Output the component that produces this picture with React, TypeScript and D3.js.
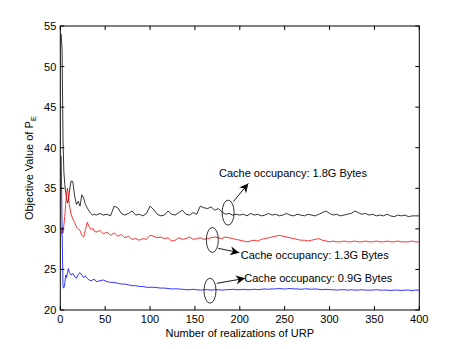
import * as d3 from 'd3';

// x positions of the samples (realizations of URP)
const xs = [
  1, 2, 3, 4, 5, 6, 7, 8, 9, 10,
  12, 14, 16, 18, 20, 22, 24, 26, 28, 30, 32, 34, 36, 38, 40,
  44, 48, 52, 56, 60, 64, 68, 72, 76, 80, 84, 88, 92, 96, 100,
  104, 108, 112, 116, 120, 124, 128, 132, 136, 140, 144, 148, 152, 156, 160,
  164, 168, 172, 176, 180, 184, 188, 192, 196, 200, 204, 208, 212, 216, 220,
  224, 228, 232, 236, 240, 244, 248, 252, 256, 260, 264, 268, 272, 276, 280,
  284, 288, 292, 296, 300, 304, 308, 312, 316, 320, 324, 328, 332, 336, 340,
  344, 348, 352, 356, 360, 364, 368, 372, 376, 380, 384, 388, 392, 396, 400,
];

// 1.8G Bytes
const black = [
  54, 52, 41, 37, 35.5, 34.5, 33.8, 33.2, 33.5, 34.5,
  35.9, 35.8, 34, 33, 33.4, 32.8, 34.2, 33.8, 33, 32.6, 32.2, 31.9, 31.7, 31.8, 31.7,
  31.9, 31.7, 31.8, 31.6, 32.8, 32.6, 31.9, 31.7, 31.9, 32.2, 31.7, 31.8, 31.6, 31.9, 32.8,
  32.4, 31.8, 31.6, 31.7, 32.2, 31.8, 31.7, 32.0, 32.3, 31.8, 31.7, 32.0, 31.8, 32.8, 32.6,
  32.5, 32.7, 32.3, 32.5, 32.1, 31.8, 31.9, 31.7, 31.8, 31.7, 31.8, 31.6, 31.9, 31.7, 31.8,
  31.6, 31.7, 31.9, 31.7, 31.8, 31.6, 31.7, 31.9, 31.7, 31.6, 31.8, 31.7, 31.6, 31.8, 31.7,
  31.6, 31.8, 32.0, 32.2, 31.9, 31.7, 31.8, 31.6, 31.7, 31.8, 31.9, 32.2, 32.0, 31.8, 31.9,
  31.7, 31.8, 31.6, 31.7, 31.6, 31.8, 31.6, 31.5, 31.7, 31.6, 31.7, 31.5, 31.6, 31.6, 31.6,
];

// 1.3G Bytes
const red = [
  29.3, 30.2, 29.5, 30.5, 31.5, 33, 34.3, 35, 34.2, 33,
  31.8, 31.2, 30.8, 30.2, 30.0, 29.8, 29.2, 29.0, 29.9, 30.8, 30.3, 29.9, 30.1, 29.7, 29.6,
  29.8, 29.4, 29.6, 29.2, 29.5, 29.1, 29.3, 28.9, 29.1, 28.7, 28.8, 28.6, 28.8, 28.7, 29.2,
  29.1, 28.9, 29.0, 28.8, 28.9, 28.5, 28.6, 28.9, 28.7, 28.8, 29.0, 28.7, 28.8, 28.9, 28.7,
  28.8, 28.9, 29.0, 28.9, 28.8, 29.0, 28.9, 28.8, 28.7, 28.6, 28.5, 28.4, 28.5, 28.6, 28.5,
  28.7, 28.8, 28.9, 29.0, 29.1, 29.2, 29.1, 29.0, 28.9, 28.8, 28.7, 28.6, 28.6, 28.5, 28.6,
  28.7, 28.8, 28.6, 28.5, 28.4, 28.5, 28.4, 28.4, 28.5, 28.4, 28.4, 28.5, 28.4, 28.4, 28.5,
  28.4, 28.4, 28.5, 28.4, 28.4, 28.5, 28.4, 28.4, 28.5, 28.4, 28.4, 28.4, 28.5, 28.4, 28.4,
];

// 0.9G Bytes
const blue = [
  39, 30, 22.8, 22.7, 23.3, 24.3, 24.0, 24.6, 25.1, 24.7,
  24.3, 24.5, 24.1, 23.9, 24.4, 24.6, 24.3, 24.0, 24.2, 23.9, 23.7, 23.6, 23.7, 23.8, 23.5,
  23.6, 23.7, 23.5, 23.4, 23.4, 23.3, 23.2, 23.2, 23.1, 23.0, 23.0, 22.9, 22.9, 22.8, 22.8,
  22.8, 22.75, 22.7, 22.7, 22.65, 22.6, 22.6, 22.6, 22.55, 22.5, 22.5, 22.55, 22.5, 22.45, 22.5,
  22.5, 22.45, 22.5, 22.5, 22.45, 22.5, 22.5, 22.55, 22.5, 22.5, 22.55, 22.5, 22.5, 22.55, 22.5,
  22.55, 22.6, 22.55, 22.6, 22.6, 22.65, 22.6, 22.6, 22.65, 22.6, 22.6, 22.55, 22.6, 22.6, 22.55,
  22.6, 22.55, 22.5, 22.55, 22.5, 22.5, 22.45, 22.5, 22.5, 22.45, 22.5, 22.45, 22.45, 22.5, 22.45,
  22.45, 22.45, 22.5, 22.45, 22.45, 22.45, 22.4, 22.45, 22.45, 22.4, 22.45, 22.45, 22.4, 22.45, 22.45,
];

const series = [
  { name: '1.8G', values: black, color: '#000000' },
  { name: '1.3G', values: red, color: '#ff0000' },
  { name: '0.9G', values: blue, color: '#0000ff' },
];

// annotations: ellipse center, arrow start/end, label anchor (all in data units)
const notes = [
  { label: 'Cache occupancy: 1.8G Bytes', ellipse: [187, 32.0], from: [192.8, 33.35], to: [209.5, 35.6], text: [176.8, 36.85] },
  { label: 'Cache occupancy: 1.3G Bytes', ellipse: [169.4, 28.63], from: [176, 27.6], to: [199.4, 27.06], text: [201, 26.78] },
  { label: 'Cache occupancy: 0.9G Bytes', ellipse: [166.8, 22.38], from: [174.3, 23.29], to: [205.8, 23.9], text: [205, 23.9] },
];

const xTicks = [0, 50, 100, 150, 200, 250, 300, 350, 400];
const yTicks = [20, 25, 30, 35, 40, 45, 50, 55];

const W = 463;
const H = 349;
const font = '"Liberation Sans", Arial, sans-serif';

export default function App() {
  const x = d3.scaleLinear().domain([0, 400]).range([60.3, 419.3]);
  const y = d3.scaleLinear().domain([20, 55]).range([310, 26]);
  const [x0, x1] = x.range();
  const [y0, y1] = y.range();

  const line = d3
    .line<number>()
    .x((_, i) => x(xs[i]))
    .y((d) => y(d));

  return (
    <svg width={W} height={H} style={{ position: 'absolute', left: 0, top: 0, background: '#fff' }} fontFamily={font}>
      <defs>
        <marker id="head" viewBox="0 0 10 10" refX="10" refY="5" markerWidth="11" markerHeight="9" markerUnits="userSpaceOnUse" orient="auto">
          <path d="M0,0 L10,5 L0,10 L3,5 Z" fill="#000" />
        </marker>
      </defs>

      {series.map((s) => (
        <path key={s.name} d={line(s.values) || ''} fill="none" stroke={s.color} strokeWidth={0.8} />
      ))}

      {/* frame */}
      <rect x={x0} y={y1} width={x1 - x0} height={y0 - y1} fill="none" stroke="#000" strokeWidth={1} />

      {xTicks.map((t) => (
        <g key={'x' + t}>
          <line x1={x(t)} x2={x(t)} y1={y0} y2={y0 - 4} stroke="#000" />
          <line x1={x(t)} x2={x(t)} y1={y1} y2={y1 + 4} stroke="#000" />
          <text x={x(t)} y={y0 + 13} fontSize={11} textAnchor="middle" fill="#000">{t}</text>
        </g>
      ))}
      {yTicks.map((t) => (
        <g key={'y' + t}>
          <line x1={x0} x2={x0 + 4} y1={y(t)} y2={y(t)} stroke="#000" />
          <line x1={x1} x2={x1 - 4} y1={y(t)} y2={y(t)} stroke="#000" />
          <text x={x0 - 4} y={y(t) + 4} fontSize={11} textAnchor="end" fill="#000">{t}</text>
        </g>
      ))}

      <text x={(x0 + x1) / 2} y={337} fontSize={11} textAnchor="middle" fill="#000">Number of realizations of URP</text>
      <text transform={`translate(33,${(y0 + y1) / 2}) rotate(-90)`} fontSize={11} textAnchor="middle" fill="#000">
        Objective Value of P<tspan fontSize={8} dy={3}>E</tspan>
      </text>

      {notes.map((n) => (
        <g key={n.label}>
          <ellipse cx={x(n.ellipse[0])} cy={y(n.ellipse[1])} rx={6} ry={12.5} fill="none" stroke="#000" strokeWidth={0.8} />
          <line x1={x(n.from[0])} y1={y(n.from[1])} x2={x(n.to[0])} y2={y(n.to[1])} stroke="#000" strokeWidth={0.9} markerEnd="url(#head)" />
          <text x={x(n.text[0])} y={y(n.text[1]) + 4} fontSize={11} fill="#000">{n.label}</text>
        </g>
      ))}
    </svg>
  );
}
